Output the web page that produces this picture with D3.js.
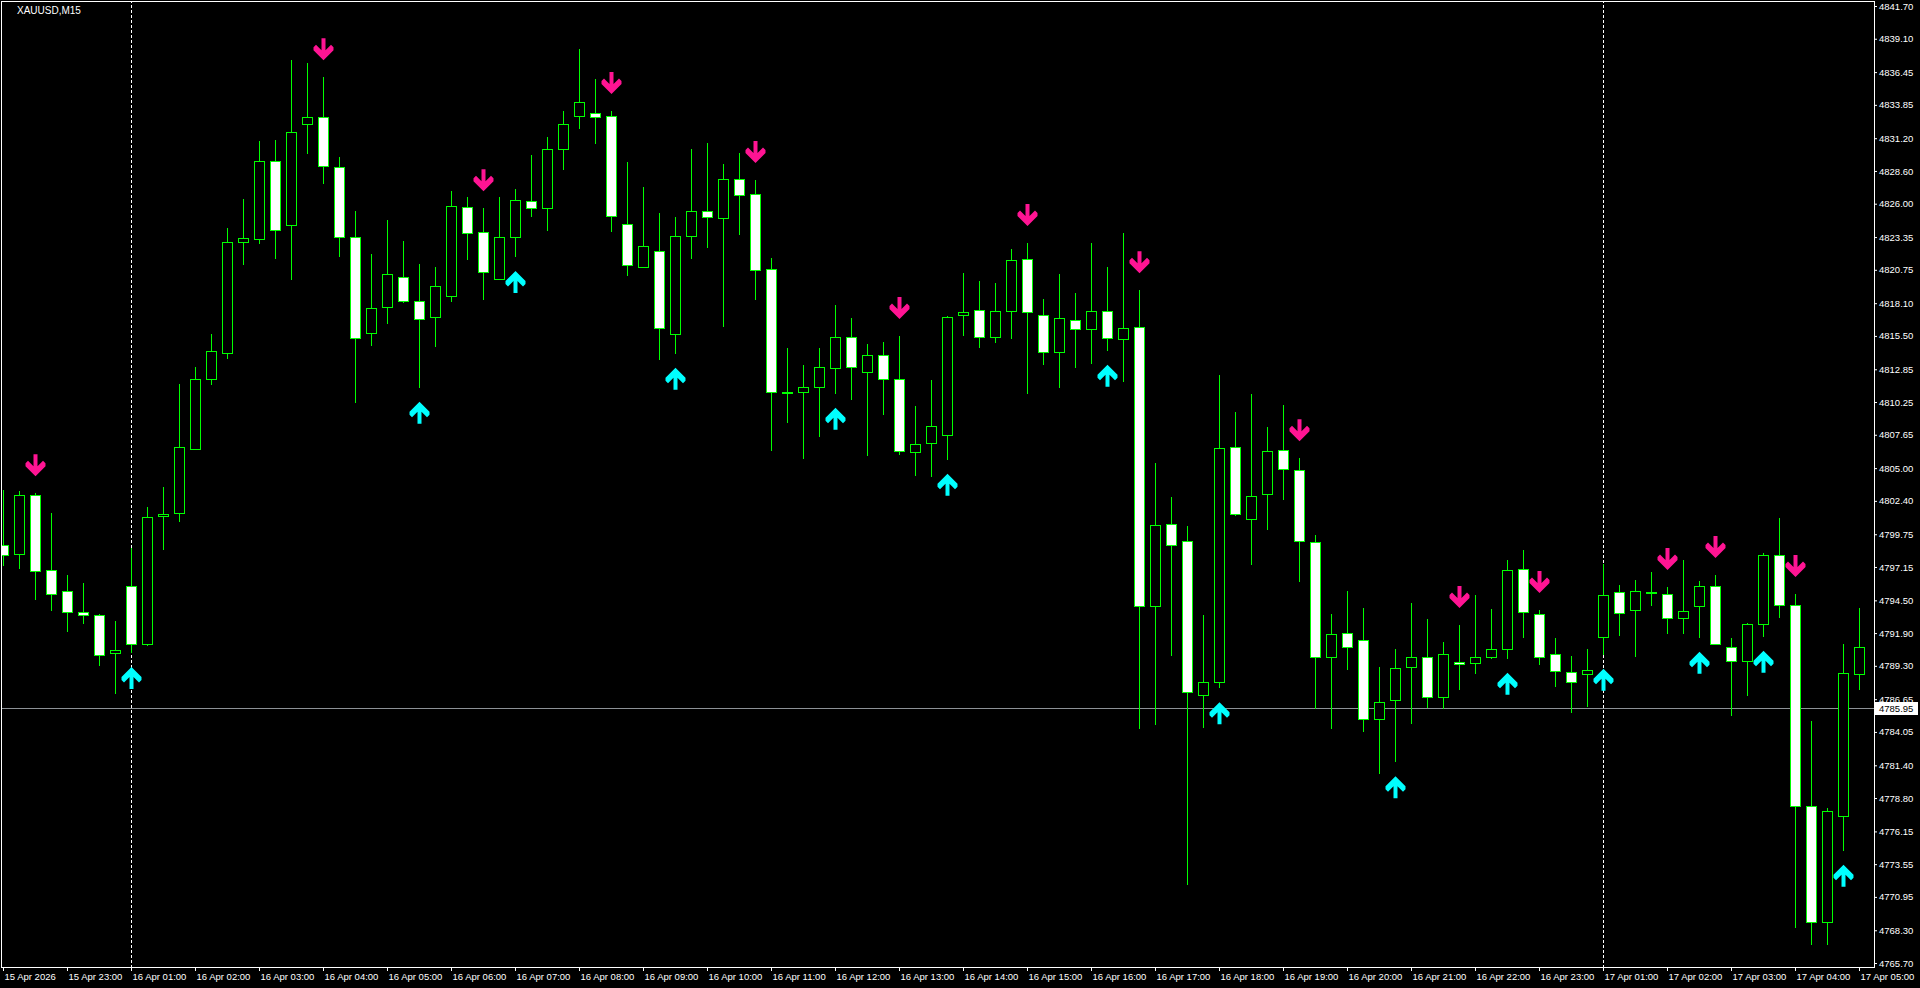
<!DOCTYPE html>
<html><head><meta charset="utf-8">
<script src="https://cdn.jsdelivr.net/npm/d3@7"></script>
<style>html,body{margin:0;padding:0;background:#000;overflow:hidden}
svg text{font-family:"Liberation Sans",Arial,sans-serif;}</style>
</head><body><svg id="c" width="1920" height="988"></svg>
<script>
const symbolTitle = "XAUUSD,M15";
const opens = [4798.86,4798.15,4802.87,4796.94,4795.21,4793.54,4793.30,4790.28,4795.67,4791.06,
4801.20,4801.41,4806.55,4812.05,4814.17,4822.93,4823.21,4829.42,4824.28,4832.36,
4832.86,4828.89,4823.32,4815.70,4817.76,4820.20,4818.30,4816.98,4818.69,4825.76,
4823.73,4820.00,4823.33,4826.24,4825.63,4830.32,4832.99,4833.18,4832.99,4824.36,
4821.00,4822.22,4815.63,4823.41,4825.40,4824.89,4827.94,4826.75,4820.79,4811.07,
4811.02,4811.42,4812.93,4815.39,4812.61,4813.96,4812.10,4806.26,4806.97,4807.65,
4817.18,4817.53,4815.39,4817.45,4821.58,4817.14,4814.25,4816.79,4816.07,4817.45,
4815.28,4816.18,4794.03,4800.58,4799.24,4786.98,4788.05,4806.65,4800.99,4802.92,
4806.47,4804.88,4799.10,4789.98,4791.87,4791.32,4785.09,4786.56,4789.18,4789.98,
4786.85,4789.63,4789.50,4790.02,4790.61,4796.97,4793.39,4790.22,4788.83,4788.63,
4791.61,4795.14,4793.71,4795.19,4794.98,4793.07,4794.07,4795.62,4790.82,4789.66,
4792.60,4798.08,4794.11,4778.14,4768.93,4777.35,4788.63];
const highs = [4803.30,4803.18,4803.00,4801.44,4796.52,4795.88,4793.40,4792.87,4798.65,4801.91,
4803.50,4811.70,4813.01,4815.67,4824.07,4826.37,4830.98,4831.05,4837.40,4837.18,
4836.05,4829.71,4825.42,4822.01,4824.71,4823.04,4821.19,4820.95,4826.98,4826.51,
4825.63,4826.51,4827.14,4829.84,4831.27,4833.36,4838.29,4835.90,4833.36,4829.31,
4827.33,4825.26,4824.94,4830.34,4830.82,4829.15,4830.03,4827.88,4821.66,4814.52,
4813.17,4814.52,4817.93,4816.92,4814.86,4814.99,4815.49,4809.91,4811.98,4817.06,
4820.50,4819.86,4819.70,4822.40,4822.88,4818.43,4820.42,4818.91,4822.88,4820.97,
4823.67,4819.12,4805.44,4802.68,4800.37,4793.31,4812.43,4809.43,4810.85,4808.30,
4810.02,4805.78,4799.72,4793.42,4795.24,4793.87,4789.18,4790.62,4794.29,4793.02,
4791.17,4792.54,4794.92,4793.81,4797.71,4798.50,4793.73,4791.51,4790.08,4790.64,
4797.39,4795.70,4796.12,4796.75,4795.56,4797.68,4796.04,4796.51,4791.51,4792.70,
4798.28,4801.04,4795.00,4784.92,4778.01,4791.03,4793.89];
const lows = [4797.34,4797.09,4794.61,4793.76,4792.09,4792.73,4789.33,4787.16,4790.40,4790.99,
4798.54,4800.78,4806.55,4811.70,4813.71,4821.23,4822.86,4821.69,4819.99,4829.99,
4827.68,4821.87,4810.28,4814.81,4816.55,4818.22,4811.47,4814.72,4818.30,4821.61,
4818.46,4820.00,4821.85,4825.05,4823.91,4828.78,4832.04,4830.84,4823.86,4820.36,
4821.00,4813.69,4814.17,4821.71,4822.58,4816.31,4823.62,4818.46,4806.46,4808.69,
4805.83,4807.55,4810.99,4810.51,4806.04,4809.32,4806.12,4804.48,4804.40,4805.75,
4815.60,4814.64,4815.02,4815.36,4810.99,4813.29,4811.47,4813.05,4813.37,4814.41,
4811.94,4784.39,4784.70,4790.18,4771.97,4784.47,4787.60,4801.24,4797.35,4800.17,
4802.58,4796.07,4785.98,4784.39,4789.01,4784.16,4780.78,4781.72,4784.78,4786.05,
4785.97,4787.48,4788.75,4789.95,4789.95,4791.61,4789.47,4787.72,4785.66,4786.13,
4790.26,4791.77,4790.10,4794.13,4791.93,4791.93,4791.61,4791.01,4785.39,4787.01,
4791.69,4793.20,4768.58,4767.23,4767.23,4774.70,4787.48];
const closes = [4798.12,4802.87,4796.87,4795.03,4793.61,4793.37,4790.18,4790.56,4791.06,4801.13,
4801.34,4806.66,4812.05,4814.28,4822.93,4823.25,4829.42,4823.89,4831.73,4832.86,
4828.99,4823.39,4815.31,4817.68,4820.45,4818.30,4816.82,4819.49,4825.79,4823.65,
4820.55,4823.33,4826.27,4825.63,4830.32,4832.35,4834.05,4832.86,4825.00,4821.11,
4822.62,4816.10,4823.41,4825.40,4824.92,4827.94,4826.67,4820.73,4811.02,4811.07,
4811.47,4813.01,4815.39,4813.01,4813.96,4812.05,4806.38,4806.89,4808.32,4816.98,
4817.38,4815.39,4817.45,4821.50,4817.38,4814.25,4816.90,4816.03,4817.45,4815.31,
4816.10,4794.03,4800.52,4798.90,4787.22,4788.05,4806.57,4801.34,4802.75,4806.34,
4804.92,4799.21,4789.98,4791.80,4790.80,4785.09,4786.46,4789.09,4789.98,4786.85,
4790.22,4789.42,4789.98,4790.61,4796.89,4793.55,4789.98,4788.86,4787.99,4788.95,
4794.90,4793.47,4795.22,4795.19,4793.07,4793.63,4795.62,4791.01,4789.66,4792.60,
4798.08,4794.11,4778.14,4768.93,4777.75,4788.71,4790.77];
const sellSignals = [2,20,30,38,47,56,64,71,81,91,96,104,107,112];
const buySignals = [8,26,32,42,52,59,69,76,87,94,100,106,110,115];
const priceTicks = [4841.70,4839.10,4836.45,4833.85,4831.20,4828.60,4826.00,4823.35,4820.75,4818.10,
4815.50,4812.85,4810.25,4807.65,4805.00,4802.40,4799.75,4797.15,4794.50,4791.90,
4789.30,4786.65,4784.05,4781.40,4778.80,4776.15,4773.55,4770.95,4768.30,4765.70];
const timeLabels = ["15 Apr 2026","15 Apr 23:00","16 Apr 01:00","16 Apr 02:00","16 Apr 03:00","16 Apr 04:00",
"16 Apr 05:00","16 Apr 06:00","16 Apr 07:00","16 Apr 08:00","16 Apr 09:00","16 Apr 10:00","16 Apr 11:00",
"16 Apr 12:00","16 Apr 13:00","16 Apr 14:00","16 Apr 15:00","16 Apr 16:00","16 Apr 17:00","16 Apr 18:00",
"16 Apr 19:00","16 Apr 20:00","16 Apr 21:00","16 Apr 22:00","16 Apr 23:00","17 Apr 01:00","17 Apr 02:00",
"17 Apr 03:00","17 Apr 04:00","17 Apr 05:00"];
const timeLabelIdx = [0,4,8,12,16,20,24,28,32,36,40,44,48,52,56,60,64,68,72,76,80,84,88,92,96,100,104,108,112,116];
const daySeparators = [8,100];
const bidPrice = 4785.95;

const svg = d3.select("#c");
const plotR = 1874, plotB = 967;
const n = opens.length;
const x = d3.scaleLinear().domain([0, n-1]).range([3, 3 + 16*(n-1)]);
const y = d3.scaleLinear().domain([4765.70, 4841.70]).range([963, 6]);
const GREEN = "#00ff00";

svg.append("rect").attr("width",1920).attr("height",988).attr("fill","#000");
svg.append("defs").append("clipPath").attr("id","plot")
  .append("rect").attr("x",2).attr("y",2).attr("width",plotR-2).attr("height",plotB-2);
const g = svg.append("g").attr("clip-path","url(#plot)");

// day separators
g.selectAll("line.sep").data(daySeparators).join("line")
  .attr("x1",d=>Math.round(x(d))+0.5).attr("x2",d=>Math.round(x(d))+0.5)
  .attr("y1",0).attr("y2",plotB)
  .attr("stroke","#fff").attr("stroke-width",1).attr("stroke-dasharray","3,2");

// bid line
g.append("line").attr("x1",0).attr("x2",plotR)
  .attr("y1",Math.round(y(bidPrice))+0.5).attr("y2",Math.round(y(bidPrice))+0.5)
  .attr("stroke","#8c9196").attr("stroke-width",1);

const data = d3.range(n).map(i=>({i,o:opens[i],h:highs[i],l:lows[i],c:closes[i]}));
const cg = g.append("g").attr("shape-rendering","crispEdges");
cg.selectAll("line.wick").data(data).join("line")
  .attr("x1",d=>Math.round(x(d.i))+0.5).attr("x2",d=>Math.round(x(d.i))+0.5)
  .attr("y1",d=>Math.round(y(d.h))).attr("y2",d=>Math.round(y(d.l))+1)
  .attr("stroke",GREEN).attr("stroke-width",1);
cg.selectAll("rect.body").data(data.filter(d=>Math.abs(d.o-d.c)>0.001)).join("rect")
  .attr("x",d=>Math.round(x(d.i))-4.5)
  .attr("y",d=>Math.round(y(Math.max(d.o,d.c)))+0.5)
  .attr("width",10)
  .attr("height",d=>Math.max(1,Math.round(y(Math.min(d.o,d.c)))-Math.round(y(Math.max(d.o,d.c)))))
  .attr("fill",d=>d.c>d.o?"#000":"#fff")
  .attr("stroke",GREEN).attr("stroke-width",1);
cg.selectAll("line.doji").data(data.filter(d=>Math.abs(d.o-d.c)<=0.001)).join("line")
  .attr("x1",d=>Math.round(x(d.i))-5).attr("x2",d=>Math.round(x(d.i))+6)
  .attr("y1",d=>Math.round(y(d.o))+0.5).attr("y2",d=>Math.round(y(d.o))+0.5)
  .attr("stroke",GREEN).attr("stroke-width",2);

// arrows
const downPts = [[-2,0],[2,0],[2,12],[7.5,6.5],[10,9],[10,12],[0,22],[-10,12],[-10,9],[-7.5,6.5],[-2,12]];
const upPts = downPts.map(p=>[p[0],22-p[1]]);
const line = d3.line();
g.selectAll("path.sell").data(sellSignals).join("path")
  .attr("d",i=>{const cx=Math.round(x(i))+0.5, t=y(highs[i])-39; return line(downPts.map(p=>[cx+p[0],t+p[1]]))+"Z";})
  .attr("fill","#ff1493");
g.selectAll("path.buy").data(buySignals).join("path")
  .attr("d",i=>{const cx=Math.round(x(i))+0.5, t=y(lows[i])+15; return line(upPts.map(p=>[cx+p[0],t+p[1]]))+"Z";})
  .attr("fill","#00ffff");

// frame
svg.append("rect").attr("x",1.5).attr("y",1.5).attr("width",plotR-1.5).attr("height",plotB-1.5)
  .attr("fill","none").attr("stroke","#fff").attr("stroke-width",1).attr("shape-rendering","crispEdges");

// price axis
const ya = svg.append("g").attr("transform",`translate(${plotR},0)`)
  .call(d3.axisRight(y).tickValues(priceTicks).tickSize(3).tickPadding(2).tickFormat(d3.format(".2f")));
ya.select(".domain").remove();
ya.selectAll("line").attr("stroke","#fff");
ya.selectAll("text").attr("fill","#fff").style("font-size","9.5px");

// time axis
const xa = svg.append("g").attr("transform",`translate(0,${plotB})`)
  .call(d3.axisBottom(x).tickValues(timeLabelIdx).tickSize(4).tickPadding(2)
    .tickFormat(d=>timeLabels[timeLabelIdx.indexOf(d)]));
xa.select(".domain").remove();
xa.selectAll("line").attr("stroke","#fff");
xa.selectAll("text").attr("fill","#fff").attr("text-anchor","start").attr("x",1).style("font-size","9.5px");

// bid label
const by = Math.round(y(bidPrice));
svg.append("rect").attr("x",plotR+1).attr("y",by-6).attr("width",43).attr("height",13).attr("fill","#fff");
svg.append("text").attr("x",plotR+5).attr("y",by+4).attr("fill","#000").style("font-size","9.5px").text(d3.format(".2f")(bidPrice));

// title
svg.append("text").attr("x",17).attr("y",14).attr("fill","#fff").style("font-size","10px").text(symbolTitle);
</script></body></html>
